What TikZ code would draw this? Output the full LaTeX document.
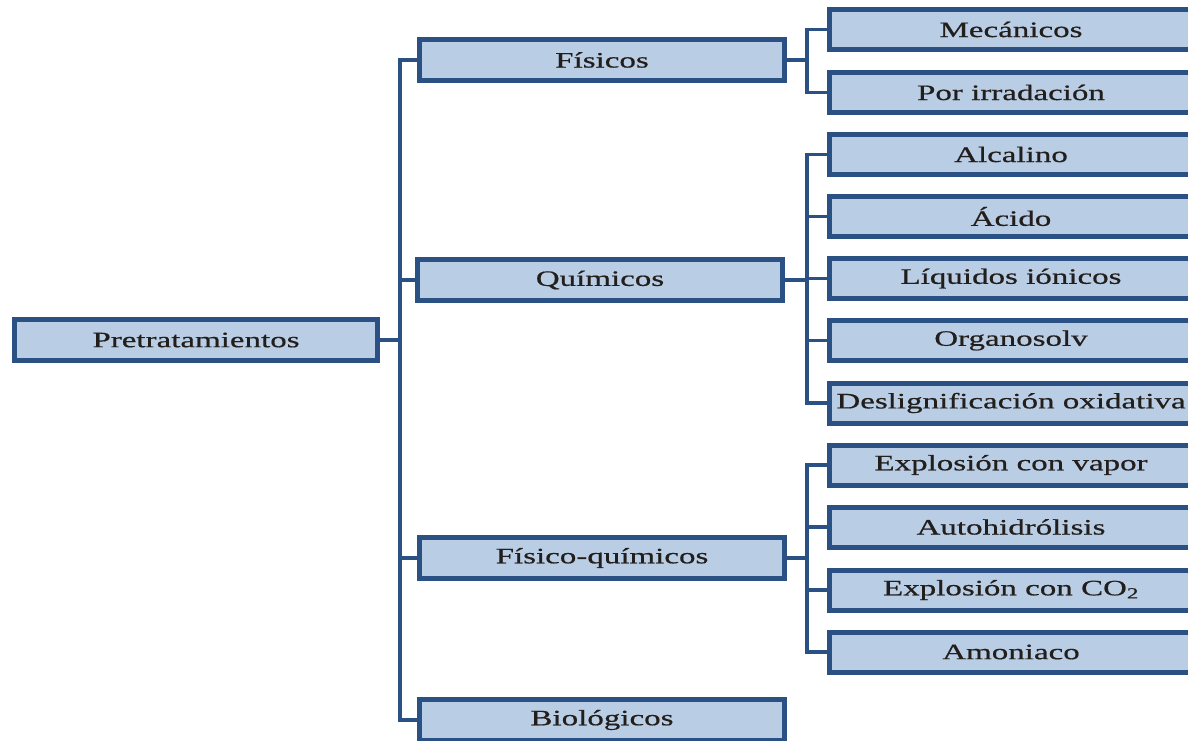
\documentclass[tikz,border=0pt]{standalone}
\usepackage{fontspec}
\setmainfont{Liberation Serif}[FakeStretch=1.5,FakeBold=0.6]
\usetikzlibrary{shadows}
\definecolor{boxfill}{HTML}{B9CDE5}
\definecolor{boxline}{HTML}{2A5084}
\definecolor{txt}{HTML}{221E1C}
\begin{document}
\begin{tikzpicture}[x=1pt,y=-1pt,
  box/.style={draw=boxline, line width=5pt, fill=boxfill, rectangle,
    inner sep=0pt, text=txt, font=\fontsize{22}{26}\selectfont,
    drop shadow={shadow xshift=2pt, shadow yshift=-2pt, opacity=0.3}},
  rootbox/.style={box, minimum width=363pt, minimum height=41pt},
  catbox/.style={box, minimum width=365pt, minimum height=41pt},
  leafbox/.style={box, minimum width=363pt, minimum height=40pt},
  link/.style={draw=boxline, line width=3.5pt, line join=miter}]
\useasboundingbox (0,0) rectangle (1188,741);
\fill[white] (0,0) rectangle (1188,741);

% vertical bus lines
\coordinate (trunk) at (400,0);
\coordinate (bus) at (807,0);

% root
\node[rootbox] (pre) at (196,340) {Pretratamientos};

% categories
\node[catbox] (fis) at (602,60)  {Físicos};
\node[catbox] (qui) at (600,280) {Químicos};
\node[catbox] (fq)  at (602,558) {Físico-químicos};
\node[catbox] (bio) at (602,720) {Biológicos};

% leaves
\node[leafbox] (mec) at (1011,29.5)  {Mecánicos};
\node[leafbox] (irr) at (1011,92.5)  {Por irradación};
\node[leafbox] (alc) at (1011,154.5) {Alcalino};
\node[leafbox] (aci) at (1011,216.5) {Ácido};
\node[leafbox] (liq) at (1011,278.5) {Líquidos iónicos};
\node[leafbox] (org) at (1011,340.5) {Organosolv};
\node[leafbox] (des) at (1011,403)   {Deslignificación oxidativa};
\node[leafbox] (vap) at (1011,465)   {Explosión con vapor};
\node[leafbox] (aut) at (1011,527)   {Autohidrólisis};
\node[leafbox] (co2) at (1011,590)   {Explosión con CO\textsubscript{2}};
\node[leafbox] (amo) at (1011,652)   {Amoniaco};

% root to categories
\foreach \c in {fis,qui,fq,bio}
  \draw[link] (pre.east) -| (trunk |- \c.west) -- (\c.west);

% categories to leaves
\foreach \l in {mec,irr}
  \draw[link] (fis.east) -| (bus |- \l.west) -- (\l.west);
\foreach \l in {alc,aci,liq,org,des}
  \draw[link] (qui.east) -| (bus |- \l.west) -- (\l.west);
\foreach \l in {vap,aut,co2,amo}
  \draw[link] (fq.east) -| (bus |- \l.west) -- (\l.west);
\end{tikzpicture}
\end{document}
